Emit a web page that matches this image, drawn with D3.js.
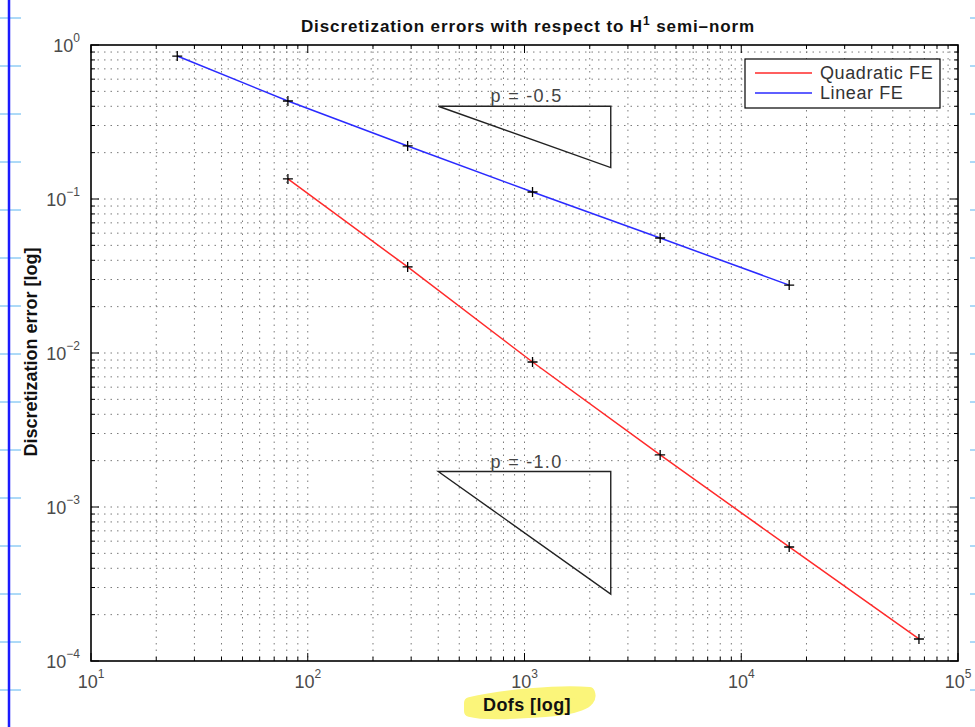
<!DOCTYPE html>
<html>
<head>
<meta charset="utf-8">
<script src="https://cdn.jsdelivr.net/npm/d3@7"></script>
<style>
  body { margin: 0; background: #fff; }
  svg { display: block; font-family: "Liberation Sans", Arial, sans-serif; }
</style>
</head>
<body>
<div id="chart"></div>
<script>
// Data (dofs vs discretization error)
const linearDofs = [25, 81, 289, 1089, 4225, 16641];
const linearErr = [0.848, 0.433, 0.221, 0.111, 0.0558, 0.0276];
const quadDofs = [81, 289, 1089, 4225, 16641, 66049];
const quadErr = [0.135, 0.0362, 0.00874, 0.00218, 0.00055, 0.000139];

// slope triangles: [x0, x1], y at left corner, slope
const triX = [400, 2500];
const triTopY = [0.4, 0.0017];
const triSlopes = [-0.5, -1.0];
const triLabels = ["p = -0.5", "p = -1.0"];

const xTickExp = [1, 2, 3, 4, 5];
const yTickExp = [0, -1, -2, -3, -4];

const W = 975, H = 727;
const margin = {top: 45, right: 17, bottom: 66, left: 91};
const width = W - margin.left - margin.right,
      height = H - margin.top - margin.bottom;

const svg = d3.select("#chart").append("svg")
    .attr("width", W)
    .attr("height", H);

// notebook-style margin line on the left and small ticks on both edges
const notch = d3.range(18, H, 48);
svg.selectAll(".ln").data(notch).join("line")
    .attr("x1", 0).attr("x2", 21).attr("y1", d => d).attr("y2", d => d)
    .attr("stroke", "#5ab4f0").attr("stroke-width", 1);
svg.selectAll(".rn").data(notch).join("line")
    .attr("x1", 970).attr("x2", 975).attr("y1", d => d).attr("y2", d => d)
    .attr("stroke", "#5ab4f0").attr("stroke-width", 1);
svg.append("line")
    .attr("x1", 9).attr("x2", 9).attr("y1", 0).attr("y2", H)
    .attr("stroke", "#1a1aff").attr("stroke-width", 2.5);

const g = svg.append("g")
    .attr("transform", `translate(${margin.left},${margin.top})`);

const x = d3.scaleLog().domain([10, 1e5]).range([0, width]);
const y = d3.scaleLog().domain([1e-4, 1]).range([height, 0]);

// all grid positions (major + minor)
function logTicks(lo, hi) {
  const out = [];
  for (let e = lo; e < hi; e++) {
    for (let m = 1; m <= 9; m++) out.push({v: m * Math.pow(10, e), major: m === 1});
  }
  out.push({v: Math.pow(10, hi), major: true});
  return out;
}
const xt = logTicks(1, 5), yt = logTicks(-4, 0);

// dotted grid
g.append("g").selectAll("line").data(xt.filter(d => d.v > 10 && d.v < 1e5)).join("line")
    .attr("x1", d => x(d.v)).attr("x2", d => x(d.v))
    .attr("y1", 0).attr("y2", height)
    .attr("stroke", "#7a7a7a").attr("stroke-width", 1)
    .attr("stroke-dasharray", "1.5,5");
g.append("g").selectAll("line").data(yt.filter(d => d.v > 1e-4 && d.v < 1)).join("line")
    .attr("x1", 0).attr("x2", width)
    .attr("y1", d => y(d.v)).attr("y2", d => y(d.v))
    .attr("stroke", "#7a7a7a").attr("stroke-width", 1)
    .attr("stroke-dasharray", "1.5,5");

// inward ticks on all four sides
const tickG = g.append("g").attr("stroke", "#000").attr("stroke-width", 1);
xt.forEach(d => {
  const L = d.major ? 8 : 4;
  tickG.append("line").attr("x1", x(d.v)).attr("x2", x(d.v)).attr("y1", height).attr("y2", height - L);
  tickG.append("line").attr("x1", x(d.v)).attr("x2", x(d.v)).attr("y1", 0).attr("y2", L);
});
yt.forEach(d => {
  const L = d.major ? 8 : 4;
  tickG.append("line").attr("x1", 0).attr("x2", L).attr("y1", y(d.v)).attr("y2", y(d.v));
  tickG.append("line").attr("x1", width).attr("x2", width - L).attr("y1", y(d.v)).attr("y2", y(d.v));
});

// box
g.append("rect")
    .attr("width", width).attr("height", height)
    .attr("fill", "none").attr("stroke", "#000").attr("stroke-width", 1.6);

// tick labels like 10^k
function powLabel(sel, e) {
  sel.append("tspan").text("10");
  sel.append("tspan").attr("dy", -10).attr("font-size", 12).text(e < 0 ? "\u2212" + (-e) : e);
}
xTickExp.forEach(e => {
  const t = g.append("text")
      .attr("x", x(Math.pow(10, e))).attr("y", height + 27)
      .attr("text-anchor", "middle").attr("font-size", 18).attr("fill", "#4a4a4a");
  powLabel(t, e);
});
yTickExp.forEach(e => {
  const t = g.append("text")
      .attr("x", -11).attr("y", y(Math.pow(10, e)) + 7)
      .attr("text-anchor", "end").attr("font-size", 18).attr("fill", "#4a4a4a");
  powLabel(t, e);
});

// slope triangles
triTopY.forEach((y0, i) => {
  const y1 = y0 * Math.pow(triX[1] / triX[0], triSlopes[i]);
  const pts = [[triX[0], y0], [triX[1], y0], [triX[1], y1]];
  g.append("path")
      .attr("d", d3.line().x(d => x(d[0])).y(d => y(d[1]))(pts) + "Z")
      .attr("fill", "none").attr("stroke", "#222").attr("stroke-width", 1.4);
  g.append("text")
      .attr("x", x(Math.sqrt(triX[0] * triX[1])) + 2)
      .attr("y", y(y0) - 4)
      .attr("text-anchor", "middle").attr("font-size", 18).attr("fill", "#444")
      .attr("letter-spacing", 1.3)
      .text(triLabels[i]);
});

// lines
const line = d3.line().x(d => x(d[0])).y(d => y(d[1]));
const series = [
  {dofs: quadDofs, err: quadErr, color: "#ff2a2a", name: "Quadratic FE"},
  {dofs: linearDofs, err: linearErr, color: "#2a2aff", name: "Linear FE"}
];
series.forEach(s => {
  const pts = s.dofs.map((d, i) => [d, s.err[i]]);
  g.append("path").attr("d", line(pts))
      .attr("fill", "none").attr("stroke", s.color).attr("stroke-width", 1.5);
  g.append("g").selectAll("path").data(pts).join("path")
      .attr("d", d => `M${x(d[0]) - 5},${y(d[1])}h10M${x(d[0])},${y(d[1]) - 5}v10`)
      .attr("stroke", "#000").attr("stroke-width", 1.3);
});

// legend
const leg = g.append("g").attr("transform", `translate(${654},${14})`);
leg.append("rect").attr("width", 195).attr("height", 49)
    .attr("fill", "#fff").attr("stroke", "#000").attr("stroke-width", 1.2);
series.forEach((s, i) => {
  leg.append("line").attr("x1", 10).attr("x2", 67)
      .attr("y1", 14 + i * 20).attr("y2", 14 + i * 20)
      .attr("stroke", s.color).attr("stroke-width", 1.3);
  leg.append("text").attr("x", 75).attr("y", 20 + i * 20)
      .attr("font-size", 18).attr("letter-spacing", 0.6).attr("fill", "#333").text(s.name);
});

// title
const title = svg.append("text")
    .attr("x", 528).attr("y", 32).attr("text-anchor", "middle")
    .attr("font-size", 17).attr("font-weight", "bold").attr("fill", "#111")
    .attr("letter-spacing", 0.9);
title.append("tspan").text("Discretization errors with respect to H");
title.append("tspan").attr("dy", -7).attr("font-size", 12).text("1");
title.append("tspan").attr("dy", 7).text(" semi\u2013norm");

// yellow highlighter under x label
svg.append("path")
    .attr("d", "M470,703 C500,696 560,690 589,693 C593,703 575,709 545,711 C515,713 485,715 470,711 Z")
    .attr("fill", "#fbf57a").attr("stroke", "#fbf57a").attr("stroke-width", 12)
    .attr("stroke-linejoin", "round");

svg.append("text")
    .attr("x", 527).attr("y", 711).attr("text-anchor", "middle")
    .attr("font-size", 18).attr("font-weight", "bold").attr("fill", "#111")
    .attr("letter-spacing", 0.4)
    .text("Dofs [log]");

svg.append("text")
    .attr("transform", `translate(37,${352}) rotate(-90)`)
    .attr("text-anchor", "middle")
    .attr("font-size", 18).attr("font-weight", "bold").attr("fill", "#111")
    .text("Discretization error [log]");
</script>
</body>
</html>
